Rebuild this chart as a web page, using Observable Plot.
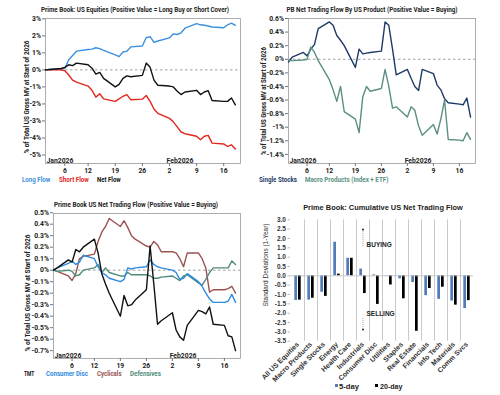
<!DOCTYPE html>
<html><head><meta charset="utf-8">
<script src="https://cdn.jsdelivr.net/npm/d3@7"></script>
<script src="https://cdn.jsdelivr.net/npm/@observablehq/plot@0.6"></script>
<style>
body{margin:0;background:#fff;}
#wrap{position:relative;width:500px;height:395px;overflow:hidden;background:#fff;}
.p{position:absolute;}
.t{position:absolute;white-space:nowrap;font-family:Roboto,"DejaVu Sans Condensed",sans-serif;font-weight:bold;line-height:1;}
.a{position:absolute;white-space:nowrap;font-family:"Liberation Sans",Arial,sans-serif;line-height:1;}
.sq{position:absolute;width:3px;height:3.5px;}
</style></head><body><div id="wrap"></div><script>
// ---------- data ----------
const dates = ["2026-01-01","2026-01-02","2026-01-05","2026-01-06","2026-01-07","2026-01-08","2026-01-09",
"2026-01-12","2026-01-13","2026-01-14","2026-01-15","2026-01-16","2026-01-19","2026-01-20","2026-01-21",
"2026-01-22","2026-01-23","2026-01-26","2026-01-27","2026-01-28","2026-01-29","2026-01-30","2026-02-02",
"2026-02-03","2026-02-04","2026-02-05","2026-02-06","2026-02-09","2026-02-10","2026-02-11","2026-02-12",
"2026-02-13","2026-02-16","2026-02-17","2026-02-18","2026-02-19"];
const xTickDates = ["2026-01-06","2026-01-12","2026-01-19","2026-01-26","2026-02-02","2026-02-09","2026-02-16"];
const monthLabels = [{date:"2026-01-01", label:"Jan2026"},{date:"2026-02-01", label:"Feb2026"}];

// Panel 1: Prime Book US Equities
const longFlow  = [0,0.02,0.05,0.1,0.6,0.85,1.1,1.2,1.22,1.3,1.25,1.15,0.88,0.78,1.05,1.1,1.35,1.4,1.9,1.95,1.62,1.7,1.88,2.12,2.08,2.18,2.45,2.72,2.65,2.62,2.58,2.52,2.48,2.65,2.75,2.62];
const shortFlow = [0,0,0,-0.05,-0.3,-0.6,-0.72,-0.95,-1.2,-1.6,-1.4,-1.7,-1.85,-1.7,-1.55,-1.45,-1.75,-1.72,-1.5,-1.85,-2.3,-2.55,-2.85,-3.05,-3.35,-3.65,-3.75,-3.9,-4.1,-3.9,-3.85,-4.3,-4.35,-4.5,-4.4,-4.65];
const netFlow   = [0,0.02,0.08,0.15,0.3,0.25,0.4,0.3,0.1,-0.25,-0.15,-0.5,-1.0,-0.85,-0.5,-0.35,-0.4,-0.32,0.4,0.15,-0.6,-0.9,-0.95,-1.0,-1.25,-1.45,-1.3,-1.2,-1.45,-1.3,-1.22,-1.8,-1.85,-1.85,-1.65,-2.05];
const p1Ticks = [3,2,1,0,-1,-2,-3,-4,-5];

// Panel 2: PB Net Trading Flow by US Product
const singleStocks  = [-0.04,0.03,0.1,0.05,0.15,0.22,0.45,0.55,0.5,0.35,0.28,0.2,-0.12,0.15,0.08,0.09,0.1,0.12,0.55,0.5,0.15,-0.23,-0.15,-0.28,-0.4,-0.46,-0.15,-0.21,-0.38,-0.45,-0.58,-0.64,-0.66,-0.67,-0.57,-0.85];
const macroProducts = [-0.02,-0.02,-0.01,0.0,0.18,0.1,-0.02,-0.3,-0.45,-0.62,-0.4,-0.77,-0.88,-1.08,-0.55,-0.4,-0.47,-0.43,-0.15,-0.4,-0.72,-0.7,-0.85,-0.7,-0.75,-0.98,-1.12,-0.96,-1.1,-0.88,-0.6,-1.18,-1.19,-1.2,-1.08,-1.18];
const p2Ticks = [0.6,0.4,0.2,0,-0.2,-0.4,-0.6,-0.8,-1,-1.2,-1.4];

// Panel 3: Prime Book US Net Trading Flow by sector group
const tmt          = [0,0.02,0.09,0.07,0.18,0.16,0.2,0.27,0.15,-0.03,-0.12,-0.2,-0.4,-0.22,-0.31,-0.3,-0.26,-0.17,0.21,-0.12,-0.47,-0.44,-0.37,-0.52,-0.58,-0.61,-0.48,-0.35,-0.36,-0.38,-0.32,-0.47,-0.48,-0.57,-0.58,-0.7];
const consumerDisc = [0,0.02,0.06,0.08,0.05,0.07,0.13,0.1,0.03,-0.02,-0.04,-0.07,-0.1,-0.08,0.02,0.01,0.02,0.03,0.09,0.05,0.03,0.02,0.0,-0.02,-0.08,-0.07,-0.03,-0.1,-0.14,-0.2,-0.25,-0.28,-0.28,-0.27,-0.21,-0.28];
const cyclicals    = [0,-0.01,-0.05,-0.09,-0.03,0.1,0.12,0.14,0.25,0.33,0.38,0.45,0.38,0.43,0.37,0.3,0.27,0.21,0.2,0.25,0.22,0.16,0.16,0.15,0.1,0.03,0.15,0.15,0.1,0.02,-0.19,-0.17,-0.17,-0.16,-0.14,-0.2];
const defensives   = [0,-0.01,0.0,-0.01,-0.05,-0.04,0.0,0.02,0.05,-0.02,0.02,-0.02,-0.05,-0.05,-0.02,-0.04,-0.04,-0.04,-0.05,-0.07,-0.07,-0.06,-0.05,-0.07,-0.09,-0.05,-0.04,-0.11,-0.13,-0.08,-0.02,0.02,0.02,0.02,0.08,0.05];
const p3Ticks = [0.5,0.4,0.3,0.2,0.1,0,-0.1,-0.2,-0.3,-0.4,-0.5,-0.6,-0.7];

// Panel 4: Cumulative US Net Trading Flow (std devs)
const sectors = ["All US Equities","Macro Products","Single Stocks","Energy","Health Care","Industrials","Consumer Disc","Utilities","Staples","Real Estate","Financials","Info Tech","Materials","Comm Svcs"];
const fiveDay   = [-1.32,-1.3,-0.88,1.8,0.94,0.36,0.05,-0.02,-0.16,-0.36,-1.06,-1.26,-1.35,-1.75];
const twentyDay = [-1.3,-1.2,-1.1,0.09,0.94,-0.95,-1.53,-0.49,-1.23,-2.97,-0.68,-0.61,-1.57,-1.33];
const p4Ticks = [3,2.5,2,1.5,1,0.5,0,-0.5,-1,-1.5,-2,-2.5,-3,-3.5];
const annotations = [{sector:"Industrials", y:1.64, label:"BUYING", y1:1.58, y2:2.42},{sector:"Industrials", y:-2.02, label:"SELLING", y1:-2.29, y2:-2.82}];

// ---------- helpers ----------
const COND = 'Roboto,"DejaVu Sans Condensed",sans-serif';
const ARIAL = '"Liberation Sans",Arial,sans-serif';
const wrap = document.getElementById("wrap");
const parse = s => new Date(s + "T00:00:00Z");
const xDomain = [parse("2026-01-01"), new Date(Date.UTC(2026,1,20,8))];

// place a text and squeeze it horizontally to the reference width
function addText(cls, txt, x, y, o = {}) {
  const d = document.createElement("div");
  d.className = cls; d.textContent = txt;
  d.style.left = x + "px"; d.style.top = y + "px";
  d.style.fontSize = (o.size || 7.5) + "px";
  if (o.color) d.style.color = o.color;
  if (o.weight) d.style.fontWeight = o.weight;
  wrap.appendChild(d);
  const s = o.w ? o.w / d.offsetWidth : 1;
  if (o.rotate) {
    d.style.transformOrigin = "50% 50%";
    d.style.transform = `translate(-50%,-50%) rotate(-90deg) scaleX(${s})`;
  } else if (o.center) {
    d.style.transformOrigin = "50% 50%";
    d.style.transform = `translate(-50%,-50%) scaleX(${s})`;
  } else {
    d.style.transformOrigin = "0 50%";
    d.style.transform = `translate(0,-50%) scaleX(${s})`;
  }
}
function addSquare(x, y, color) {
  const d = document.createElement("div");
  d.className = "sq"; d.style.left = x + "px"; d.style.top = (y - 1.75) + "px"; d.style.background = color;
  wrap.appendChild(d);
}
function place(svg, left, top) {
  svg.classList.add("p"); svg.style.left = left + "px"; svg.style.top = top + "px";
  wrap.appendChild(svg);
}
function pctFmt(d) { return `${+d.toFixed(1)}%`; }

function linePanel({series, yDomain, yTicks, mLeft, mRight}) {
  const rows = [];
  for (const s of series) s.values.forEach((v, i) => rows.push({date: parse(dates[i]), value: v, name: s.name}));
  return Plot.plot({
    width: 250, height: 195,
    marginLeft: mLeft, marginRight: mRight, marginTop: 18, marginBottom: 32,
    style: {fontFamily: COND, fontSize: "6.8px", fontWeight: "bold", color: "#222", background: "transparent", overflow: "visible"},
    x: {type: "utc", domain: xDomain},
    y: {domain: yDomain},
    color: {domain: series.map(s => s.name), range: series.map(s => s.color)},
    marks: [
      Plot.ruleY([0], {stroke: "#888", strokeWidth: 0.8, strokeDasharray: "2.5,2.5"}),
      Plot.frame({stroke: "#999", strokeWidth: 0.8}),
      Plot.axisX({ticks: xTickDates.map(parse), tickFormat: d => d.getUTCDate(), tickSize: 3, tickPadding: 1.5, stroke: "#777", label: null}),
      Plot.axisY({ticks: yTicks, tickFormat: pctFmt, tickSize: 3, tickPadding: 1.5, stroke: "#777", label: null}),
      Plot.text(monthLabels, {x: d => parse(d.date), text: "label", frameAnchor: "bottom", textAnchor: "start", lineAnchor: "bottom", dx: 1, dy: -1, fill: "#222"}),
      Plot.line(rows, {x: "date", y: "value", z: "name", stroke: "name", strokeWidth: 1.4, strokeLinejoin: "round"})
    ]
  });
}
const yLabel = "% of Total US Gross MV at Start of 2026";

// ---------- panel 1 ----------
place(linePanel({
  series: [{name:"Long Flow", values: longFlow, color:"#3d8fdf"},{name:"Short Flow", values: shortFlow, color:"#e2261c"},{name:"Net Flow", values: netFlow, color:"#111"}],
  yDomain: [-5.5, 3.02], yTicks: p1Ticks, mLeft: 45, mRight: 10
}), 0, 0);
addText("t", "Prime Book: US Equities (Positive Value = Long Buy or Short Cover)", 135, 10, {center: true, w: 188, color: "#222"});
addText("t", yLabel, 27, 96.5, {rotate: true, w: 113, size: 7, color: "#222"});
addText("t", "Long Flow", 22.3, 180, {color: "#3d8fdf", w: 28.7});
addText("t", "Short Flow", 59, 180, {color: "#e2261c", w: 29.7});
addText("t", "Net Flow", 96.7, 180, {color: "#111", w: 24});

// ---------- panel 2 ----------
place(linePanel({
  series: [{name:"Single Stocks", values: singleStocks, color:"#1e3a66"},{name:"Macro Products (Index + ETF)", values: macroProducts, color:"#5b8f84"}],
  yDomain: [-1.534, 0.6], yTicks: p2Ticks, mLeft: 38, mRight: 25
}), 250, 0);
addText("t", "PB Net Trading Flow By US Product (Positive Value = Buying)", 371.7, 10, {center: true, w: 171, color: "#222"});
addText("t", yLabel, 264, 101, {rotate: true, w: 108, size: 7, color: "#222"});
addText("t", "Single Stocks", 259, 180, {color: "#1e3a66", w: 38});
addText("t", "Macro Products (Index + ETF)", 305, 180, {color: "#5b8f84", w: 83.3});

// ---------- panel 3 ----------
place(linePanel({
  series: [{name:"Cyclicals", values: cyclicals, color:"#9b5252"},{name:"Defensives", values: defensives, color:"#4f8c7b"},{name:"Consumer Disc", values: consumerDisc, color:"#2e8be0"},{name:"TMT", values: tmt, color:"#111"}],
  yDomain: [-0.768, 0.493], yTicks: p3Ticks, mLeft: 53, mRight: 10
}), 0, 195);
addText("t", "Prime Book US Net Trading Flow (Positive Value = Buying)", 136.3, 205, {center: true, w: 164, color: "#222"});
addText("t", yLabel, 28.3, 293, {rotate: true, w: 117, size: 7, color: "#222"});
addText("t", "TMT", 24, 374.3, {color: "#111", w: 10.5});
addText("t", "Consumer Disc", 45.7, 374.3, {color: "#2e8be0", w: 41.7});
addText("t", "Cyclicals", 96.7, 374.3, {color: "#9b5252", w: 24.3});
addText("t", "Defensives", 130, 374.3, {color: "#4f8c7b", w: 30.7});

// ---------- panel 4 ----------
{
  const rows = sectors.map((s, i) => ({sector: s, five: fiveDay[i], twenty: twentyDay[i]}));
  const svg = Plot.plot({
    width: 250, height: 200,
    marginLeft: 40, marginRight: 27, marginTop: 24.3, marginBottom: 54.3,
    style: {fontFamily: ARIAL, fontSize: "6.5px", fontWeight: "bold", color: "#333", background: "transparent", overflow: "visible"},
    x: {type: "band", domain: sectors, padding: 0},
    y: {domain: [-3.5, 3.0]},
    marks: [
      Plot.barY(rows, {x: "sector", y: "five", fill: "#4f7db8", insetLeft: 3.3, insetRight: 7.0}),
      Plot.barY(rows, {x: "sector", y: "twenty", fill: "#000", insetLeft: 7.0, insetRight: 3.3}),
      Plot.ruleY([0], {stroke: "#bbb", strokeWidth: 0.8}),
      Plot.tickX(sectors.slice(1), {x: d => d, y1: -0.12, y2: 0, dx: -6.5, stroke: "#bbb", strokeWidth: 0.8}),
      Plot.axisY({ticks: p4Ticks, tickFormat: d => d.toFixed(1), tickSize: 2.5, tickPadding: 2, stroke: "#bbb", label: null, fill: "#333"}),
      Plot.axisX({tickRotate: -45, tickSize: 0, tickPadding: 2, label: null, anchor: "bottom", fontSize: 7, fill: "#333"}),
      Plot.ruleX(annotations, {x: "sector", y1: "y1", y2: "y2", stroke: "#888", strokeWidth: 0.8, strokeDasharray: "1,1"}),
      Plot.dot(annotations, {x: "sector", y: d => d.y2 + (d.y2 > 0 ? 0.06 : -0.06), r: 1, fill: "#222"}),
      Plot.text(annotations, {x: "sector", y: "y", text: "label", textAnchor: "start", dx: 3.5, fontSize: 6.5, fill: "#222"})
    ]
  });
  place(svg, 250, 195);
}
addText("a", "Prime Book: Cumulative US Net Trading Flow", 382.7, 208.3, {center: true, weight: "bold", color: "#222", w: 160, size: 7.5});
addText("a", "Standard Deviations (1-Year)", 265, 265, {rotate: true, w: 83, size: 7, color: "#333"});
addSquare(335, 385.5, "#4f7db8");
addText("a", "5-day", 339.3, 385.5, {color: "#222", size: 7, weight: "bold", w: 19.7});
addSquare(375, 385.5, "#000");
addText("a", "20-day", 380, 385.5, {color: "#222", size: 7, weight: "bold", w: 22.3});
</script></body></html>
